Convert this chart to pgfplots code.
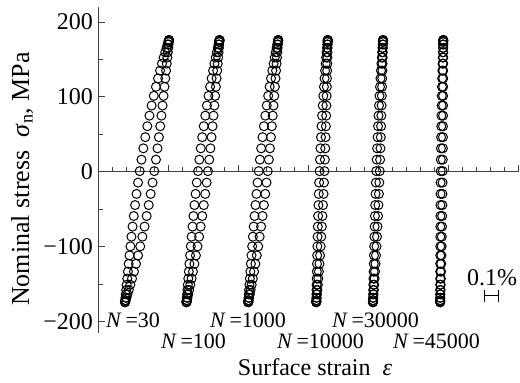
\documentclass[border=0pt]{standalone}
\usepackage{fontspec}
\setmainfont{Liberation Serif}
\usepackage{pgfplots}
\usepackage{pgfplotstable}
\pgfplotsset{compat=1.18}

% Stabilised hysteresis loops: stress s (MPa); for each cycle count the
% strain (%) on the loading branch (a..) and on the unloading branch (d..),
% each loop shifted along the strain axis.
\pgfplotstableread{
s      a30    d30    a100   d100   a1k    d1k    a10k   d10k   a30k   d30k   a45k   d45k
-174   0.193  0.193  0.632  0.632  1.073  1.073  1.559  1.559  1.964  1.964  2.444  2.444
-173.3 0.1933 0.1941 0.6323 0.6328 1.0732 1.0737 1.5591 1.5593 1.9641 1.9643 2.444  2.4441
-171.3 0.1943 0.1975 0.6331 0.6352 1.074  1.0759 1.5593 1.5603 1.9643 1.965  2.444  2.4445
-168   0.196  0.203  0.6344 0.6392 1.0752 1.0795 1.5596 1.562  1.9647 1.9663 2.4441 2.445
-163.4 0.1983 0.2105 0.6362 0.6446 1.0769 1.0844 1.5601 1.5642 1.9652 1.9681 2.4441 2.4458
-157.6 0.2012 0.2198 0.6386 0.6513 1.079  1.0905 1.5606 1.5669 1.9658 1.9703 2.4441 2.4467
-150.6 0.2048 0.2308 0.6415 0.6593 1.0816 1.0977 1.5614 1.5702 1.9666 1.9728 2.4442 2.4478
-142.4 0.2089 0.2432 0.6448 0.6683 1.0846 1.1059 1.5622 1.5738 1.9675 1.9757 2.4443 2.449
-133.1 0.2137 0.2568 0.6486 0.6781 1.0881 1.1148 1.5632 1.5777 1.9686 1.9788 2.4444 2.4503
-122.7 0.2191 0.2712 0.6529 0.6886 1.092  1.1243 1.5643 1.5819 1.9698 1.9822 2.4445 2.4516
-111.5 0.2251 0.2862 0.6577 0.6995 1.0964 1.1342 1.5655 1.5862 1.9712 1.9857 2.4446 2.453
-99.4  0.2317 0.3016 0.663  0.7108 1.1011 1.1444 1.5669 1.5906 1.9726 1.9892 2.4448 2.4544
-86.5  0.2389 0.3171 0.6687 0.7222 1.1063 1.1547 1.5685 1.5949 1.9743 1.9928 2.445  2.4557
-73    0.2469 0.3325 0.675  0.7335 1.112  1.165  1.5702 1.5992 1.9761 1.9964 2.4453 2.457
-58.9  0.2555 0.3476 0.6818 0.7447 1.1182 1.1751 1.5722 1.6033 1.978  1.9999 2.4457 2.4582
-44.3  0.2649 0.3622 0.6891 0.7556 1.1248 1.185  1.5744 1.6073 1.9801 2.0032 2.4461 2.4594
-29.4  0.2751 0.3762 0.697  0.7661 1.132  1.1945 1.5768 1.611  1.9824 2.0064 2.4466 2.4604
-14.3  0.2861 0.3895 0.7054 0.7761 1.1396 1.2036 1.5794 1.6144 1.9849 2.0095 2.4472 2.4613
1      0.2979 0.4021 0.7144 0.7856 1.1477 1.2123 1.5824 1.6176 1.9876 2.0124 2.4479 2.4621
16.3   0.3105 0.4139 0.7239 0.7946 1.1564 1.2204 1.5856 1.6206 1.9905 2.0151 2.4487 2.4628
31.4   0.3238 0.4249 0.7339 0.803  1.1655 1.228  1.589  1.6232 1.9936 2.0176 2.4496 2.4634
46.3   0.3378 0.4351 0.7444 0.8109 1.175  1.2352 1.5927 1.6256 1.9968 2.0199 2.4506 2.4639
60.9   0.3524 0.4445 0.7553 0.8182 1.1849 1.2418 1.5967 1.6278 2.0001 2.022  2.4518 2.4643
75     0.3675 0.4531 0.7665 0.825  1.195  1.248  1.6008 1.6298 2.0036 2.0239 2.453  2.4647
88.5   0.3829 0.4611 0.7778 0.8313 1.2053 1.2537 1.6051 1.6315 2.0072 2.0257 2.4543 2.465
101.4  0.3984 0.4683 0.7892 0.837  1.2156 1.2589 1.6094 1.6331 2.0108 2.0274 2.4556 2.4652
113.5  0.4138 0.4749 0.8005 0.8423 1.2258 1.2636 1.6138 1.6345 2.0143 2.0288 2.457  2.4654
124.7  0.4288 0.4809 0.8114 0.8471 1.2357 1.268  1.6181 1.6357 2.0178 2.0302 2.4584 2.4655
135.1  0.4432 0.4863 0.8219 0.8514 1.2452 1.2719 1.6223 1.6368 2.0212 2.0314 2.4597 2.4656
144.4  0.4568 0.4911 0.8317 0.8552 1.2541 1.2754 1.6262 1.6378 2.0243 2.0325 2.461  2.4657
152.6  0.4692 0.4952 0.8407 0.8585 1.2623 1.2784 1.6298 1.6386 2.0272 2.0334 2.4622 2.4658
159.6  0.4802 0.4988 0.8487 0.8614 1.2695 1.281  1.6331 1.6394 2.0297 2.0342 2.4633 2.4659
165.4  0.4895 0.5017 0.8554 0.8638 1.2756 1.2831 1.6358 1.6399 2.0319 2.0348 2.4642 2.4659
170    0.497  0.504  0.8608 0.8656 1.2805 1.2848 1.638  1.6404 2.0337 2.0353 2.465  2.4659
173.3  0.5025 0.5057 0.8648 0.8669 1.2841 1.286  1.6397 1.6407 2.035  2.0357 2.4655 2.466
175.3  0.5059 0.5067 0.8672 0.8677 1.2863 1.2868 1.6407 1.6409 2.0357 2.0359 2.4659 2.466
176    0.507  0.507  0.868  0.868  1.287  1.287  1.641  1.641  2.036  2.036  2.466  2.466
}\loops

\begin{document}
\fontsize{24bp}{28bp}\selectfont
\begin{tikzpicture}[font=\fontsize{24bp}{28bp}\selectfont]
\begin{axis}[
  at={(98bp,50bp)}, anchor=south west,
  scale only axis, width=420bp, height=326bp,
  xmin=0, xmax=3, ymin=-215, ymax=220,
  axis x line*=middle, axis y line*=left,
  axis line style={line width=1bp, black!75},
  xtick={0,0.5,1,1.5,2,2.5,3}, minor x tick num=4, xticklabels={},
  ytick={-200,-100,0,100,200}, minor y tick num=1,
  yticklabels={−200,−100,0,100,200},
  tick align=inside,
  major tick length=6.5bp, minor tick length=4.5bp,
  every tick/.style={line width=0.9bp, black!75},
  yticklabel style={anchor=east, inner sep=0pt, xshift=-5bp},
  clip=false,
  loop/.style={only marks, mark=o, mark size=4.5bp,
    mark options={line width=1bp, black}},
]
\addplot[loop] table[x=a30,  y=s] {\loops};
\addplot[loop] table[x=d30,  y=s] {\loops};
\addplot[loop] table[x=a100, y=s] {\loops};
\addplot[loop] table[x=d100, y=s] {\loops};
\addplot[loop] table[x=a1k,  y=s] {\loops};
\addplot[loop] table[x=d1k,  y=s] {\loops};
\addplot[loop] table[x=a10k, y=s] {\loops};
\addplot[loop] table[x=d10k, y=s] {\loops};
\addplot[loop] table[x=a30k, y=s] {\loops};
\addplot[loop] table[x=d30k, y=s] {\loops};
\addplot[loop] table[x=a45k, y=s] {\loops};
\addplot[loop] table[x=d45k, y=s] {\loops};
% 0.1 % strain scale bar
\draw[line width=0.9bp] (axis cs:2.762,-165) -- (axis cs:2.862,-165);
\draw[line width=0.9bp] (axis cs:2.762,-157) -- (axis cs:2.762,-173);
\draw[line width=0.9bp] (axis cs:2.862,-157) -- (axis cs:2.862,-173);
\end{axis}

\begin{scope}[every node/.style={inner sep=0pt}]
  \node[anchor=base] at (492bp,97bp) {0.1\%};
  \begin{scope}[every node/.append style={anchor=base west,
      font=\fontsize{22bp}{26bp}\selectfont}]
    \node at (106bp,55bp) {\textit{N}\,=30};
    \node at (161bp,35bp) {\textit{N}\,=100};
    \node at (210bp,55bp) {\textit{N}\,=1000};
    \node at (277bp,35bp) {\textit{N}\,=10000};
    \node at (332bp,55bp) {\textit{N}\,=30000};
    \node at (393bp,35bp) {\textit{N}\,=45000};
  \end{scope}
  \node[anchor=base] at (315bp,8bp) {Surface strain\ \ \textit{ε}};
  \node[anchor=base, rotate=90, font=\fontsize{26bp}{30bp}\selectfont]
    at (29bp,204bp) {Nominal stress\ \ \textit{σ}\textsubscript{n}, MPa};
\end{scope}

\pgfresetboundingbox
\useasboundingbox (0,0) rectangle (520bp,383bp);
\end{tikzpicture}
\end{document}
